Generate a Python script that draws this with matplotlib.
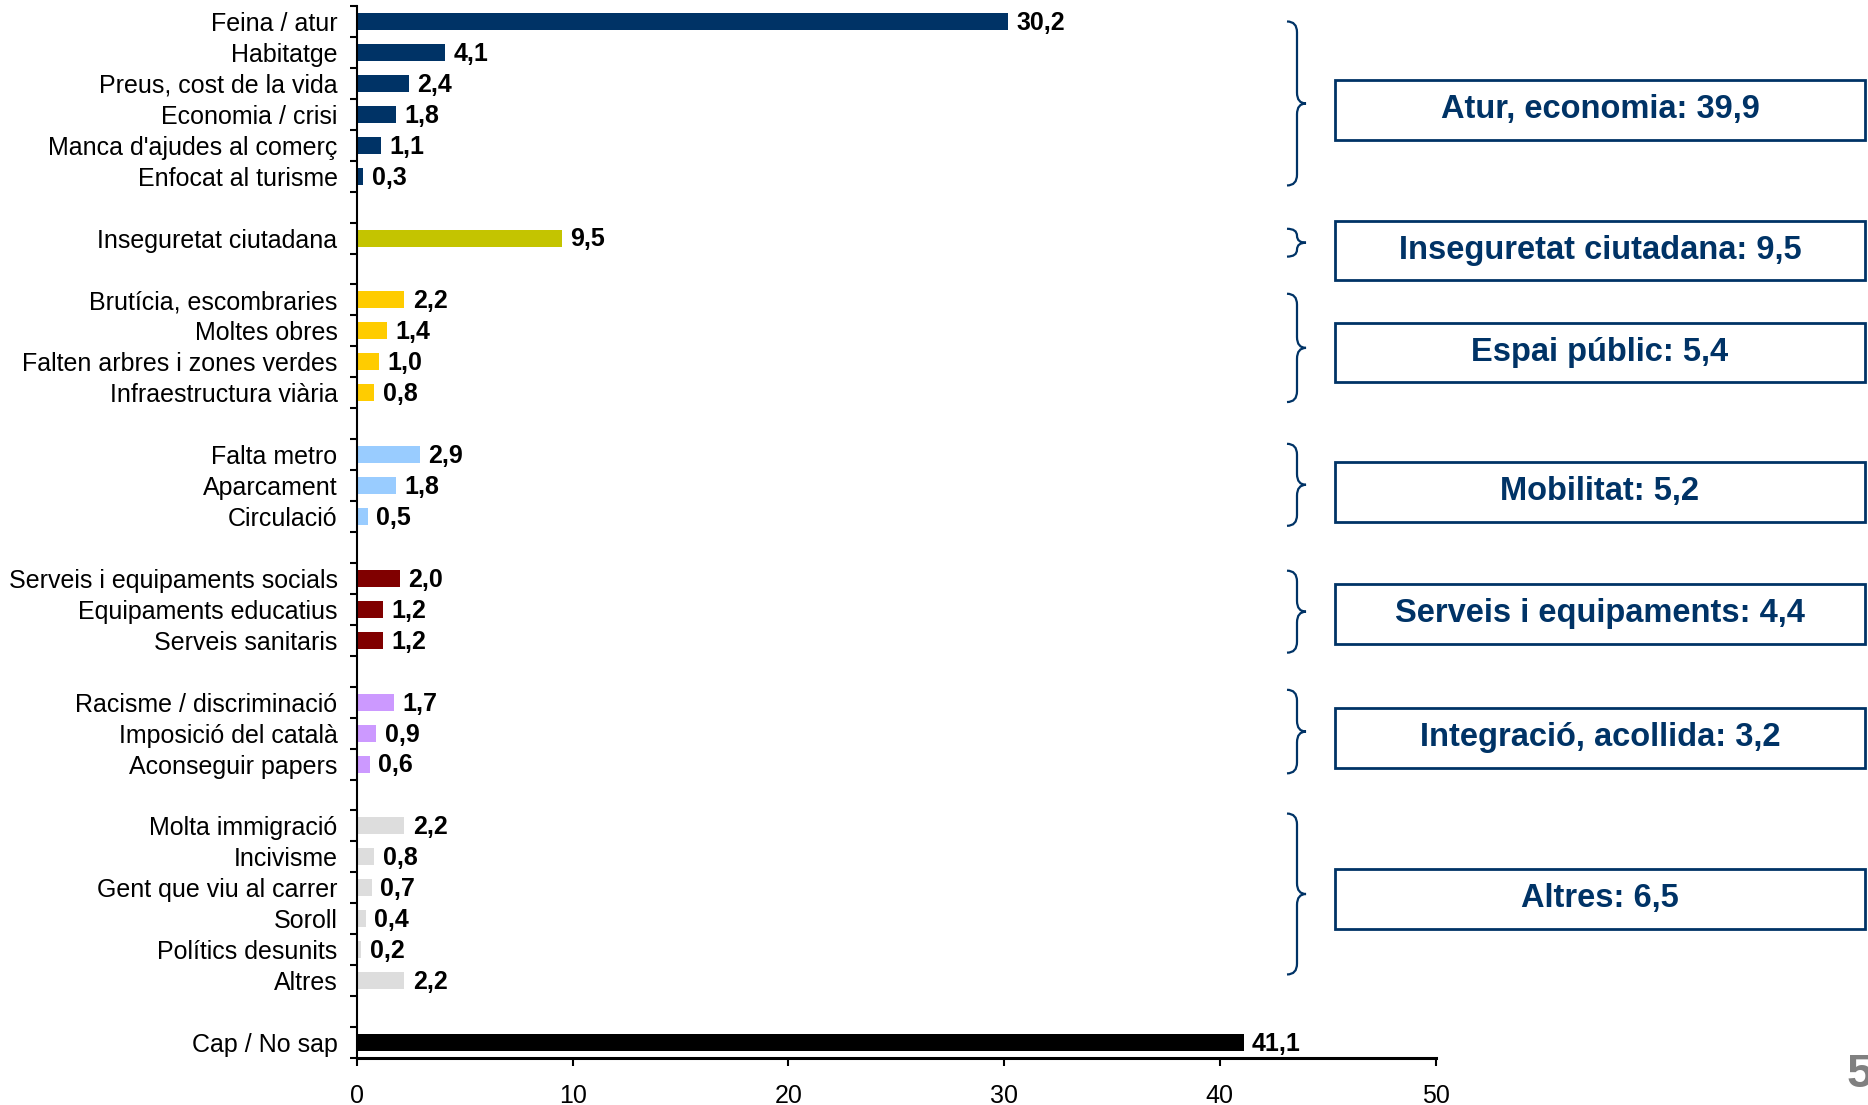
import matplotlib
matplotlib.use("Agg")
import matplotlib.pyplot as plt
from matplotlib.patches import Rectangle, PathPatch
from matplotlib.path import Path
from matplotlib.transforms import blended_transform_factory

# ---------------- data ----------------
categories = [
    "Feina / atur", "Habitatge", "Preus, cost de la vida", "Economia / crisi",
    "Manca d'ajudes al comerç", "Enfocat al turisme", "",
    "Inseguretat ciutadana", "",
    "Brutícia, escombraries", "Moltes obres", "Falten arbres i zones verdes",
    "Infraestructura viària", "",
    "Falta metro", "Aparcament", "Circulació", "",
    "Serveis i equipaments socials", "Equipaments educatius", "Serveis sanitaris", "",
    "Racisme / discriminació", "Imposició del català", "Aconseguir papers", "",
    "Molta immigració", "Incivisme", "Gent que viu al carrer", "Soroll",
    "Polítics desunits", "Altres", "",
    "Cap / No sap",
]
values = [
    30.2, 4.1, 2.4, 1.8, 1.1, 0.3, None,
    9.5, None,
    2.2, 1.4, 1.0, 0.8, None,
    2.9, 1.8, 0.5, None,
    2.0, 1.2, 1.2, None,
    1.7, 0.9, 0.6, None,
    2.2, 0.8, 0.7, 0.4, 0.2, 2.2, None,
    41.1,
]
group_of = [
    0, 0, 0, 0, 0, 0, None,
    1, None,
    2, 2, 2, 2, None,
    3, 3, 3, None,
    4, 4, 4, None,
    5, 5, 5, None,
    6, 6, 6, 6, 6, 6, None,
    7,
]
group_names = ["Atur, economia", "Inseguretat ciutadana", "Espai públic", "Mobilitat",
               "Serveis i equipaments", "Integració, acollida", "Altres", None]
group_totals = [39.9, 9.5, 5.4, 5.2, 4.4, 3.2, 6.5, None]
group_colors = ["#003366", "#C4C400", "#FFCC00", "#99CCFF", "#800000",
                "#CC99FF", "#DDDDDD", "#000000"]
x_ticks = [0, 10, 20, 30, 40, 50]
page_number = "5"

# ---------------- style ----------------
FONT = ["Liberation Sans", "DejaVu Sans"]
plt.rcParams["font.family"] = FONT
DARK = "#003366"

W, H, DPI = 1868, 1105, 100
fig = plt.figure(figsize=(W / DPI, H / DPI), dpi=DPI)
ax_left, ax_right = 357 / W, 1435.5 / W
ax_bottom, ax_top = 1 - 1058 / H, 1 - 6 / H
ax = fig.add_axes([ax_left, ax_bottom, ax_right - ax_left, ax_top - ax_bottom])

n = len(categories)
rows = list(range(n))
for i, (v, g) in enumerate(zip(values, group_of)):
    if v is None:
        continue
    ax.barh(i, v, height=0.55, color=group_colors[g], edgecolor="none")
    ax.annotate(f"{v:.1f}".replace(".", ","), xy=(v, i), xytext=(6, -1),
                textcoords="offset points", va="center", ha="left",
                fontsize=18, fontweight="bold", color="black")

ax.set_ylim(n - 0.5, -0.5)
ax.set_xlim(0, 50)

ax.set_yticks(rows)
ax.set_yticklabels(categories, fontsize=18)
ax.tick_params(axis="y", which="major", length=0, pad=14)
ax.set_yticks([k - 0.5 for k in range(n + 1)], minor=True)
ax.tick_params(axis="y", which="minor", length=5, width=1.5, direction="out", color="black")

ax.set_xticks(x_ticks)
ax.set_xticklabels([str(t) for t in x_ticks], fontsize=18)
ax.tick_params(axis="x", length=6, width=1.5, direction="out", pad=13, color="black")

for s in ["top", "right"]:
    ax.spines[s].set_visible(False)
ax.spines["left"].set_linewidth(1.5)
ax.spines["bottom"].set_linewidth(2.2)

# ---------------- braces and boxes ----------------
tr = blended_transform_factory(fig.transFigure, ax.transData)
x0, x1, x2 = 1287 / W, 1297 / W, 1306 / W
box_x0, box_x1 = 1335 / W, 1865 / W
box_shift = [0.35, 0.4, 0.2, 0.2, 0.15, 0.15, -0.15]
brace_pad = [(0.0, 0.3), (-0.3, 0.6), (-0.2, 0.3), (-0.35, 0.3),
             (-0.25, 0.4), (-0.4, 0.3), (-0.4, -0.2)]

for g, name in enumerate(group_names):
    if name is None:
        continue
    idx = [i for i, gg in enumerate(group_of) if gg == g]
    top = min(idx) + brace_pad[g][0]
    bot = max(idx) + brace_pad[g][1]
    mid = (top + bot) / 2
    r = min(0.35, (bot - top) / 4)
    verts = [
        (x0, top), (x1, top), (x1, top + r),
        (x1, mid - r),
        (x1, mid), (x2, mid),
        (x1, mid), (x1, mid + r),
        (x1, bot - r),
        (x1, bot), (x0, bot),
    ]
    codes = [Path.MOVETO, Path.CURVE3, Path.CURVE3,
             Path.LINETO,
             Path.CURVE3, Path.CURVE3,
             Path.CURVE3, Path.CURVE3,
             Path.LINETO,
             Path.CURVE3, Path.CURVE3]
    ax.add_patch(PathPatch(Path(verts, codes), transform=tr, fill=False,
                           edgecolor=DARK, lw=1.6, clip_on=False))

    bc = sum(idx) / len(idx) + box_shift[g]
    bh = 1.93
    ax.add_patch(Rectangle((box_x0, bc - bh / 2), box_x1 - box_x0, bh, transform=tr,
                           fill=False, edgecolor=DARK, lw=2, clip_on=False))
    ax.text((box_x0 + box_x1) / 2, bc, f"{name}: {group_totals[g]:.1f}".replace(".", ","),
            transform=tr, ha="center", va="center", fontsize=23.5, fontweight="bold",
            color=DARK, clip_on=False)

fig.text(1847 / W, 1 - 1075 / H, page_number, ha="left", va="center",
         fontsize=34, fontweight="bold", color="#808080")

fig.savefig("out.png", dpi=DPI)
